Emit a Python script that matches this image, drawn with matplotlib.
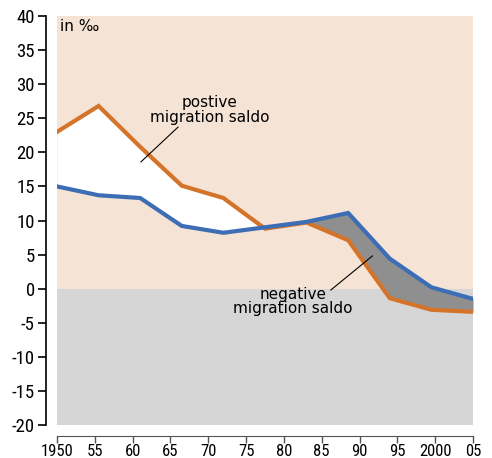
"""
Migration rates (in per mille) with positive / negative saldo shading
"""
import numpy as np
import matplotlib
matplotlib.use("Agg")
import matplotlib.pyplot as plt
from matplotlib import font_manager

names = set(f.name for f in font_manager.fontManager.ttflist)
narrow = 'DejaVu Sans'
for cand in ['Roboto Condensed', 'Liberation Sans Narrow', 'Open Sans Condensed', 'Roboto']:
    if cand in names:
        narrow = cand
        break
plt.rcParams['font.family'] = [narrow, 'DejaVu Sans']

# 11 points, evenly spaced over 1950-2005
years = np.linspace(1950, 2005, 11)
orange_vals = [23.0, 26.8, 20.8, 15.1, 13.3, 8.8, 9.7, 7.1, -1.4, -3.1, -3.4]
blue_vals = [15.0, 13.7, 13.3, 9.2, 8.2, 9.0, 9.8, 11.1, 4.4, 0.2, -1.5]

xticks = [1950, 1955, 1960, 1965, 1970, 1975, 1980, 1985, 1990, 1995, 2000, 2005]
xticklabels = ["1950", "55", "60", "65", "70", "75", "80", "85", "90", "95", "2000", "05"]
yticks = list(range(-20, 45, 5))

orange = "#d4732a"
blue = "#3d6db5"

fig = plt.figure(figsize=(4.92, 4.58), dpi=100)
ax = fig.add_axes([57/492, 1-425/458, 416/492, 409/458])

ax.set_xlim(1950, 2005)
ax.set_ylim(-20, 40)

# background bands
ax.axhspan(0, 40, color="#f5e3d5", lw=0, zorder=0)
ax.axhspan(-20, 0, color="#d6d6d6", lw=0, zorder=0)

o = np.array(orange_vals)
b = np.array(blue_vals)
ax.fill_between(years, o, b, where=o >= b, interpolate=True, color="white", lw=0, zorder=1)
ax.fill_between(years, o, b, where=o < b, interpolate=True, color="#8f8f8f", lw=0, zorder=1)

ax.plot(years, o, color=orange, lw=3, zorder=3, solid_joinstyle="miter")
ax.plot(years, b, color=blue, lw=3, zorder=3, solid_joinstyle="miter")

# spines / ticks
for s in ["top", "right"]:
    ax.spines[s].set_visible(False)
ax.spines['left'].set_position(('outward', 8))
ax.spines['bottom'].set_position(('outward', 8))
ax.spines['left'].set_linewidth(1.2)
ax.spines['bottom'].set_color("#555555")
ax.set_yticks(yticks)
ax.set_yticklabels([str(t) for t in yticks])
ax.set_xticks(xticks)
ax.set_xticklabels(xticklabels)
lsize = 13.5 if narrow != 'DejaVu Sans' else 9.5
ax.tick_params(axis='y', length=6, width=1.2, labelsize=lsize, pad=2)
ax.tick_params(axis='x', length=5, width=1.0, color="#555555", labelsize=lsize - 1.5, pad=0.5)

# annotations
ax.text(1950.4, 39.5, "in ‰", fontsize=11, family="DejaVu Sans", va="top", ha="left")
ax.text(1970.2, 26.2, "postive\nmigration saldo", fontsize=11, family="DejaVu Sans",
        ha="center", va="center", linespacing=0.95)
ax.plot([1961.1, 1966.0], [18.6, 23.7], color="black", lw=0.8, zorder=4)

ax.text(1981.2, -1.9, "negative\nmigration saldo", fontsize=11, family="DejaVu Sans",
        ha="center", va="center", linespacing=0.95)
ax.plot([1986.2, 1991.7], [-0.2, 4.8], color="black", lw=0.8, zorder=4)

fig.savefig("out.png", dpi=100)
